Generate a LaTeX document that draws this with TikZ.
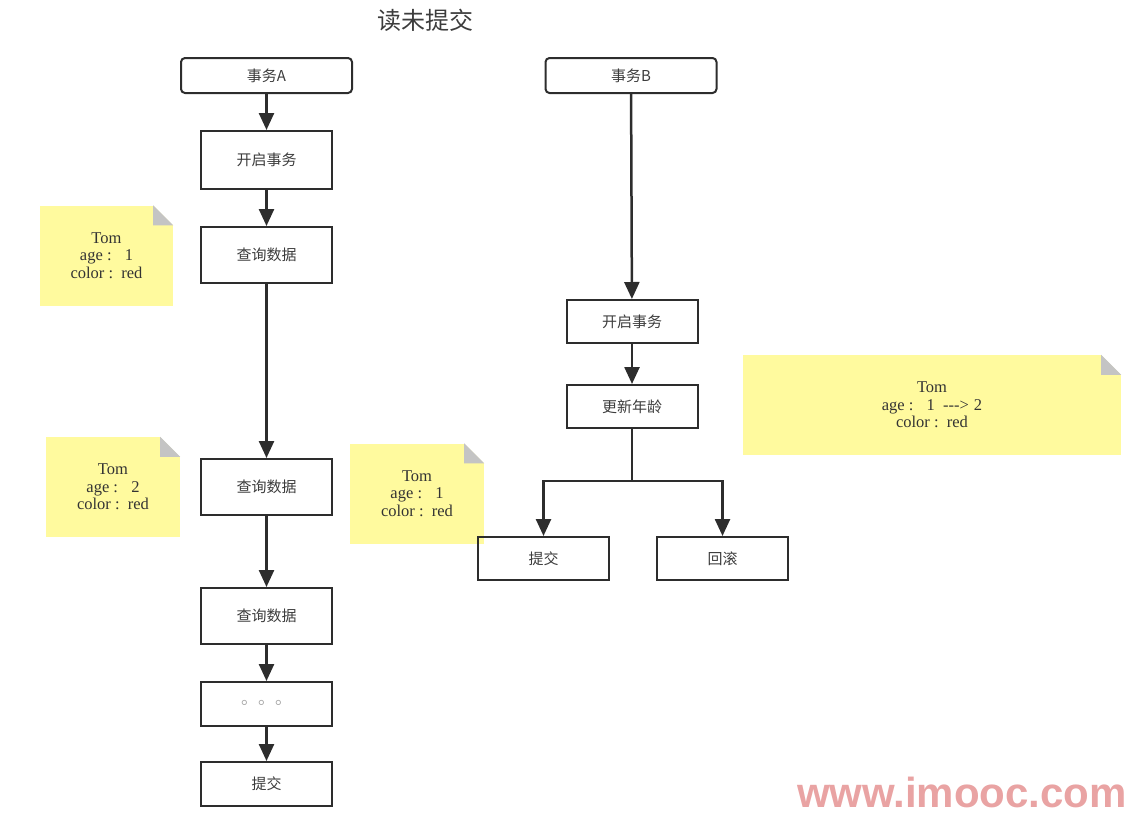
\documentclass[tikz,border=0pt]{standalone}
\usepackage{fontspec}
\setmainfont{Liberation Serif}
\newfontfamily\cjk{Noto Sans CJK SC}
\newfontfamily\markfont{Liberation Sans}
\usetikzlibrary{arrows.meta}
\definecolor{noteyellow}{RGB}{255,250,158}
\definecolor{foldgray}{RGB}{196,196,196}
\definecolor{boxline}{RGB}{45,45,45}
\definecolor{inktext}{RGB}{60,60,60}
\definecolor{markpink}{RGB}{233,163,163}
\begin{document}
\begin{tikzpicture}[x=1pt,y=-1pt,
    box/.style={draw=boxline,line width=2pt,minimum width=131pt,inner sep=0pt,text=inktext,font=\cjk\fontsize{15}{17}\selectfont},
    txbox/.style={box,rounded corners=4pt,minimum width=171pt,minimum height=35pt},
    note/.style={fill=noteyellow,minimum width=#1,minimum height=100pt,inner sep=0pt,align=center,text=black!80,font=\fontsize{16.5}{17.5}\selectfont},
    flow/.style={draw=boxline,line width=2.5pt,-{Triangle[width=15pt,length=17pt]}}]
    \useasboundingbox (0,0) rectangle (1134,817);
    \node (title) at (425,20) [text=inktext,font=\cjk\fontsize{24}{24}\selectfont] {读未提交};

    \node [note=133pt] (noteA1) at (106.5,255.5) {Tom\\age :\hspace{0.8em}1\\color :\hspace{0.5em}red};
    \node [note=134pt] (noteA2) at (113,487) {Tom\\age :\hspace{0.8em}2\\color :\hspace{0.5em}red};
    \node [note=134pt] (noteB1) at (417,493.5) {Tom\\age :\hspace{0.8em}1\\color :\hspace{0.5em}red};
    \node [note=378pt] (noteB2) at (932,405) {Tom\\age :\hspace{0.8em}1\hspace{0.5em}-{}-{}->\hspace{0.3em}2\\color :\hspace{0.5em}red};
    \foreach \n in {noteA1,noteA2,noteB1,noteB2} {
        \fill [white] (\n.north east) -- ++(-20,0) -- ++(20,20) -- cycle;
        \fill [foldgray] ([xshift=-20pt]\n.north east) -- ++(0,20) -- ++(20,0) -- cycle;
    }

    \node [txbox] (txA) at (266.5,75.5) {事务A};
    \node [box,minimum height=58pt] (openA) at (266.5,160) {开启事务};
    \node [box,minimum height=56pt] (queryA1) at (266.5,255) {查询数据};
    \node [box,minimum height=56pt] (queryA2) at (266.5,487) {查询数据};
    \node [box,minimum height=56pt] (queryA3) at (266.5,616) {查询数据};
    \node [box,minimum height=44pt,text=gray!70,font=\cjk\fontsize{17}{17}\selectfont] (dotsA) at (266.5,704) {\raisebox{4pt}{。。。}};
    \node [box,minimum height=44pt] (commitA) at (266.5,784) {提交};

    \node [txbox] (txB) at (631,75.5) {事务B};
    \node [box,minimum height=43pt] (openB) at (632,321.5) {开启事务};
    \node [box,minimum height=43pt] (updB) at (632,406.5) {更新年龄};
    \node [box,minimum height=43pt] (commitB) at (543.5,558.5) {提交};
    \node [box,minimum height=43pt] (rollB) at (722.5,558.5) {回滚};
    \coordinate (split) at (632,481);

    \foreach \a/\b in {txA/openA,openA/queryA1,queryA1/queryA2,queryA2/queryA3,queryA3/dotsA,dotsA/commitA,txB/openB,openB/updB}
        \draw [flow] (\a) -- (\b);
    \draw [flow,-] (updB) -- (split);
    \draw [flow] (split) -| (commitB.north);
    \draw [flow] (split) -| (rollB.north);

    \node (mark) at (962,792) [text=markpink,font=\markfont\bfseries\fontsize{42}{42}\selectfont] {www.imooc.com};
\end{tikzpicture}
\end{document}
